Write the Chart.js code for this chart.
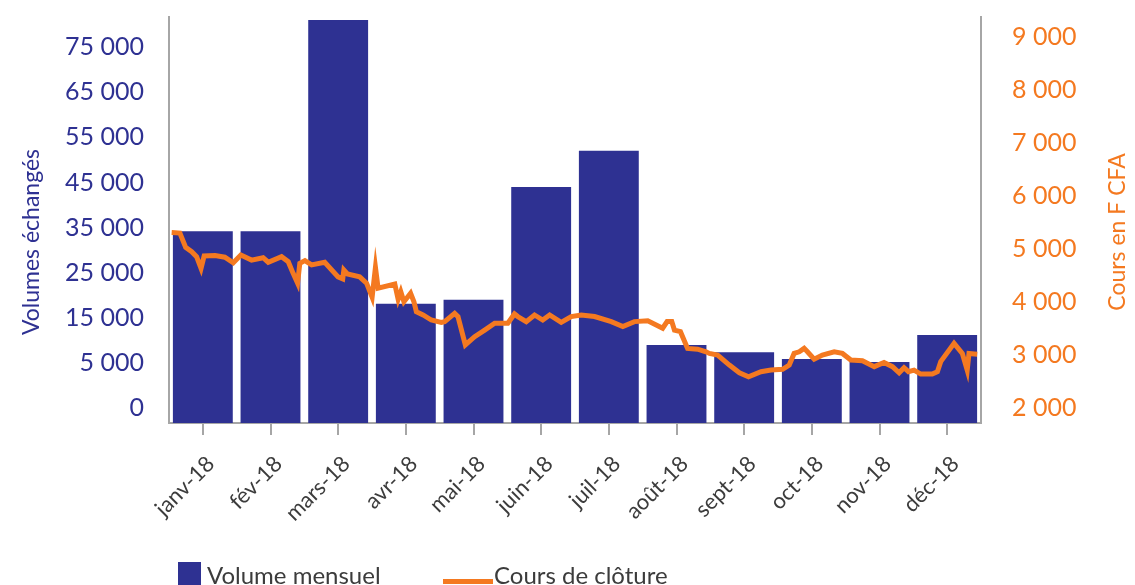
<!DOCTYPE html>
<html lang="fr">
<head>
<meta charset="utf-8">
<title>Volumes échangés et cours de clôture 2018</title>
<script src="https://cdn.jsdelivr.net/npm/chart.js@4.4.1/dist/chart.umd.min.js"></script>
<style>
  html, body { margin: 0; padding: 0; background: #fff; }
  #wrap { width: 1135px; height: 585px; }
</style>
</head>
<body>
<div id="wrap"><canvas id="myChart" width="1135" height="585"></canvas></div>
<script>
// mois (axe des catégories)
const months = ["janv-18", "fév-18", "mars-18", "avr-18", "mai-18", "juin-18",
  "juil-18", "août-18", "sept-18", "oct-18", "nov-18", "déc-18"];

const volumes = [34200, 34200, 81000, 18100, 19000, 44000, 52000, 9000, 7400, 5900, 5200, 11200];

// cours de clôture : jour de l'année et cours en F CFA
const closeDays = [1.2, 4.9, 7.5, 10.2, 12.4, 14.4, 15.8, 20.7, 25.1, 28.9,
  32.3, 37.1, 42.3, 44.6, 50.6, 53.6, 55.8, 57.8, 58.8, 61.1,
  64.1, 70.0, 76.0, 78.1, 78.6, 80.2, 85.7, 88.8, 91.3, 92.8,
  94.0, 101.5, 103.0, 104.2, 105.6, 108.6, 110.1, 111.2, 114.2, 117.9,
  122.4, 123.9, 128.4, 129.9, 133.2, 137.4, 141.9, 146.4, 152.3, 155.3,
  156.8, 160.6, 164.3, 168.0, 171.1, 176.3, 180.8, 185.3, 191.3, 198.8,
  204.0, 209.2, 215.2, 219.0, 221.9, 223.9, 226.0, 227.2, 229.9, 233.1,
  237.6, 241.4, 242.9, 246.6, 251.9, 256.4, 260.5, 266.1, 270.6, 275.8,
  278.8, 281.0, 283.3, 285.5, 287.0, 290.0, 293.7, 299.0, 302.7, 306.5,
  311.7, 317.0, 321.4, 325.2, 328.2, 330.4, 332.4, 334.9, 337.9, 343.1,
  345.4, 346.9, 352.9, 356.6, 358.8, 359.6, 363.3];
const closePrices = [5310, 5300, 5030, 4950, 4855, 4635, 4870, 4875, 4845, 4740,
  4885, 4790, 4835, 4750, 4855, 4760, 4540, 4355, 4730, 4780,
  4700, 4750, 4475, 4435, 4605, 4530, 4475, 4355, 4090, 4655,
  4260, 4340, 4050, 4195, 4005, 4165, 4005, 3815, 3755, 3660,
  3615, 3630, 3785, 3725, 3190, 3345, 3470, 3600, 3600, 3775,
  3725, 3630, 3755, 3660, 3755, 3615, 3725, 3755, 3725, 3630,
  3535, 3630, 3645, 3565, 3505, 3630, 3630, 3470, 3440, 3125,
  3110, 3060, 3030, 3000, 2810, 2665, 2590, 2685, 2715, 2730,
  2810, 3030, 3060, 3125, 3060, 2920, 3000, 3060, 3030, 2905,
  2890, 2780, 2860, 2780, 2665, 2760, 2685, 2715, 2640, 2640,
  2685, 2875, 3220, 3030, 2715, 3030, 3015];

// graduations (le "0" de l'original est placé un cran sous 5 000)
const volumeTicks = [-5000, 5000, 15000, 25000, 35000, 45000, 55000, 65000, 75000];
const volumeTickLabels = ["0", "5 000", "15 000", "25 000", "35 000", "45 000", "55 000", "65 000", "75 000"];
const priceTicks = [2000, 3000, 4000, 5000, 6000, 7000, 8000, 9000];
const priceTickLabels = ["2 000", "3 000", "4 000", "5 000", "6 000", "7 000", "8 000", "9 000"];

const volumeMin = -8290;
const volumeMax = 81650;
const priceMin = 1717;
const priceMax = 9377;

const blue = "#2e3192";
const orange = "#f47920";
const grey = "#a6a6a6";
const textGrey = "#3c3c3c";
const font = "Lato";

const ctx = document.getElementById("myChart");

// titres des axes et légende
const extras = {
  id: "extras",
  afterDraw(chart) {
    const c = chart.ctx;
    c.save();
    c.font = `23px ${font}`;
    c.textAlign = "center";
    c.textBaseline = "middle";

    c.save();
    c.fillStyle = blue;
    c.translate(32, 242);
    c.rotate(-Math.PI / 2);
    c.fillText("Volumes échangés", 0, 0);
    c.restore();

    c.save();
    c.fillStyle = orange;
    c.translate(1118, 232);
    c.rotate(-Math.PI / 2);
    c.fillText("Cours en F CFA", 0, 0);
    c.restore();

    c.font = `24px ${font}`;
    c.textAlign = "left";
    c.textBaseline = "alphabetic";
    c.fillStyle = blue;
    c.fillRect(178, 562, 23, 30);
    c.fillStyle = textGrey;
    c.fillText(chart.data.datasets[1].label, 207, 584);

    c.strokeStyle = orange;
    c.lineWidth = 5;
    c.beginPath();
    c.moveTo(443, 581.5);
    c.lineTo(493, 581.5);
    c.stroke();
    c.fillText(chart.data.datasets[0].label, 494, 584);
    c.restore();
  }
};

const chart = new Chart(ctx, {
  type: "bar",
  data: {
    labels: months,
    datasets: [
      {
        type: "line",
        label: "Cours de clôture",
        data: closeDays.map((d, i) => ({ x: d, y: closePrices[i] })),
        xAxisID: "xLine",
        yAxisID: "y1",
        borderColor: orange,
        borderWidth: 5,
        pointRadius: 0,
        tension: 0,
        order: 0
      },
      {
        label: "Volume mensuel",
        data: volumes,
        backgroundColor: blue,
        xAxisID: "x",
        yAxisID: "y",
        base: volumeMin,
        grouped: false,
        barPercentage: 0.885,
        categoryPercentage: 1,
        order: 1
      }
    ]
  },
  options: {
    responsive: false,
    animation: false,
    layout: { padding: { top: 17 } },
    plugins: {
      legend: { display: false },
      tooltip: { enabled: false }
    },
    scales: {
      x: {
        position: "bottom",
        offset: true,
        grid: { offset: false, drawOnChartArea: false, color: grey, lineWidth: 2, tickLength: 12 },
        border: { color: grey, width: 2 },
        ticks: {
          autoSkip: false,
          maxRotation: 45,
          minRotation: 45,
          labelOffset: 8,
          padding: 16,
          color: textGrey,
          font: { family: font, size: 22 }
        },
        afterFit: (s) => { s.height = 162; }
      },
      xLine: {
        type: "linear",
        position: "bottom",
        display: false,
        offset: false,
        min: 0,
        max: 365,
        grid: { display: false, offset: false },
        ticks: { display: false },
        afterFit: (s) => { s.height = 0; }
      },
      y: {
        position: "left",
        min: volumeMin,
        max: volumeMax,
        // graduations invisibles : seul l'écart au texte compte
        grid: { drawOnChartArea: false, tickLength: 25, tickColor: "rgba(0,0,0,0)" },
        border: { color: grey, width: 2 },
        ticks: {
          padding: 0,
          color: blue,
          font: { family: font, size: 25 },
          callback: (v, i) => volumeTickLabels[i]
        },
        afterBuildTicks: (s) => { s.ticks = volumeTicks.map((v) => ({ value: v })); },
        afterFit: (s) => { s.width = 169; }
      },
      y1: {
        position: "right",
        min: priceMin,
        max: priceMax,
        grid: { drawOnChartArea: false, tickLength: 31, tickColor: "rgba(0,0,0,0)" },
        border: { color: grey, width: 2 },
        ticks: {
          padding: 0,
          color: orange,
          font: { family: font, size: 25 },
          callback: (v, i) => priceTickLabels[i]
        },
        afterBuildTicks: (s) => { s.ticks = priceTicks.map((v) => ({ value: v })); },
        afterFit: (s) => { s.width = 154; }
      }
    }
  },
  plugins: [extras]
});
</script>
</body>
</html>
